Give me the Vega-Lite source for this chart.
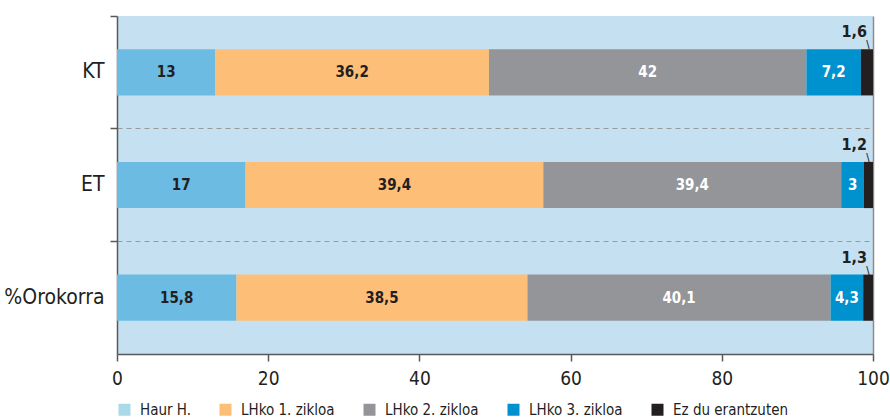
{
  "$schema": "https://vega.github.io/schema/vega-lite/v6.json",
  "width": 756,
  "height": 338,
  "autosize": {"type": "none"},
  "padding": {"left": 117, "top": 16, "right": 17, "bottom": 64},
  "background": "white",
  "data": {
    "values": [
      {"grupo": "KT", "maila": "Haur H.", "ord": 1, "balioa": 13},
      {"grupo": "KT", "maila": "LHko 1. zikloa", "ord": 2, "balioa": 36.2},
      {"grupo": "KT", "maila": "LHko 2. zikloa", "ord": 3, "balioa": 42},
      {"grupo": "KT", "maila": "LHko 3. zikloa", "ord": 4, "balioa": 7.2},
      {"grupo": "KT", "maila": "Ez du erantzuten", "ord": 5, "balioa": 1.6},
      {"grupo": "ET", "maila": "Haur H.", "ord": 1, "balioa": 17},
      {"grupo": "ET", "maila": "LHko 1. zikloa", "ord": 2, "balioa": 39.4},
      {"grupo": "ET", "maila": "LHko 2. zikloa", "ord": 3, "balioa": 39.4},
      {"grupo": "ET", "maila": "LHko 3. zikloa", "ord": 4, "balioa": 3},
      {"grupo": "ET", "maila": "Ez du erantzuten", "ord": 5, "balioa": 1.2},
      {"grupo": "%Orokorra", "maila": "Haur H.", "ord": 1, "balioa": 15.8},
      {"grupo": "%Orokorra", "maila": "LHko 1. zikloa", "ord": 2, "balioa": 38.5},
      {"grupo": "%Orokorra", "maila": "LHko 2. zikloa", "ord": 3, "balioa": 40.1},
      {"grupo": "%Orokorra", "maila": "LHko 3. zikloa", "ord": 4, "balioa": 4.3},
      {"grupo": "%Orokorra", "maila": "Ez du erantzuten", "ord": 5, "balioa": 1.3}
    ]
  },
  "transform": [
    {"stack": "balioa", "groupby": ["grupo"], "sort": [{"field": "ord", "order": "ascending"}], "as": ["x0", "x1"]},
    {"calculate": "(datum.x0 + datum.x1) / 2", "as": "xm"},
    {"calculate": "replace(format(datum.balioa, '.1~f'), '.', ',')", "as": "lab"}
  ],
  "encoding": {
    "y": {
      "field": "grupo",
      "type": "nominal",
      "title": null,
      "scale": {"domain": ["KT", "ET", "%Orokorra"], "paddingInner": 0.59, "paddingOuter": 0.295},
      "axis": {
        "bandPosition": -0.7195,
        "domainColor": "#58595b",
        "domainWidth": 1.5,
        "tickColor": "#58595b",
        "tickWidth": 1.5,
        "tickSize": 7,
        "labelPadding": 6,
        "labelFont": "DejaVu Sans Condensed, Roboto, sans-serif",
        "labelFontSize": 21,
        "labelColor": "#231f20",
        "labelBound": false,
        "grid": true,
        "gridColor": "#9a9a9a",
        "gridDash": [5, 4],
        "gridWidth": 1,
        "gridOpacity": {"condition": {"test": "datum.value === 'KT'", "value": 0}, "value": 1}
      }
    }
  },
  "layer": [
    {
      "mark": {"type": "bar"},
      "encoding": {
        "x": {
          "field": "x0",
          "type": "quantitative",
          "title": null,
          "scale": {"domain": [0, 100], "nice": false},
          "axis": {
            "values": [0, 20, 40, 60, 80, 100],
            "domainColor": "#58595b",
            "domainWidth": 1.5,
            "tickColor": "#58595b",
            "tickWidth": 1.5,
            "tickSize": 7,
            "labelPadding": 8,
            "labelFont": "DejaVu Sans Condensed, Roboto, sans-serif",
            "labelFontSize": 19,
            "labelColor": "#231f20",
            "labelFlush": false,
            "grid": true,
            "gridColor": "#8c8c8c",
            "gridWidth": 1.5,
            "gridOpacity": {"condition": {"test": "datum.value === 100", "value": 1}, "value": 0}
          }
        },
        "x2": {"field": "x1"},
        "fill": {
          "condition": {"test": "datum.maila === 'Haur H.'", "value": "#6cbbe3"},
          "field": "maila",
          "type": "nominal",
          "title": null,
          "scale": {
            "domain": ["Haur H.", "LHko 1. zikloa", "LHko 2. zikloa", "LHko 3. zikloa", "Ez du erantzuten"],
            "range": ["#aad9e8", "#fdbf78", "#939598", "#0092cf", "#231f20"]
          },
          "legend": {
            "orient": "none",
            "legendX": 0,
            "legendY": 386,
            "direction": "horizontal",
            "padding": 0,
            "columnPadding": 27,
            "symbolType": "square",
            "symbolSize": 144,
            "symbolStrokeWidth": 0,
            "labelOffset": 8,
            "labelFont": "DejaVu Sans Condensed, Roboto, sans-serif",
            "labelFontSize": 15,
            "labelColor": "#231f20",
            "labelLimit": 300
          }
        }
      }
    },
    {
      "transform": [{"filter": "datum.maila !== 'Ez du erantzuten'"}],
      "mark": {"type": "text", "font": "DejaVu Sans Condensed, Roboto, sans-serif", "fontWeight": "bold", "fontSize": 15, "baseline": "middle", "align": "center"},
      "encoding": {
        "x": {"field": "xm", "type": "quantitative"},
        "text": {"field": "lab"},
        "color": {
          "condition": {"test": "datum.ord >= 3", "value": "#ffffff"},
          "value": "#231f20"
        }
      }
    },
    {
      "transform": [{"filter": "datum.maila === 'Ez du erantzuten'"}],
      "mark": {"type": "text", "font": "DejaVu Sans Condensed, Roboto, sans-serif", "fontWeight": "bold", "fontSize": 16, "baseline": "alphabetic", "align": "right", "dx": -6, "dy": -35, "color": "#231f20"},
      "encoding": {
        "x": {"field": "x1", "type": "quantitative"},
        "text": {"field": "lab"}
      }
    },
    {
      "transform": [{"filter": "datum.maila === 'Ez du erantzuten'"}],
      "mark": {"type": "text", "font": "Liberation Sans", "fontSize": 12, "baseline": "alphabetic", "align": "center", "dx": -5, "dy": -23, "color": "#231f20", "text": "\\"},
      "encoding": {
        "x": {"field": "x1", "type": "quantitative"}
      }
    }
  ],
  "config": {
    "view": {"fill": "#c5e1f1", "stroke": null}
  }
}
